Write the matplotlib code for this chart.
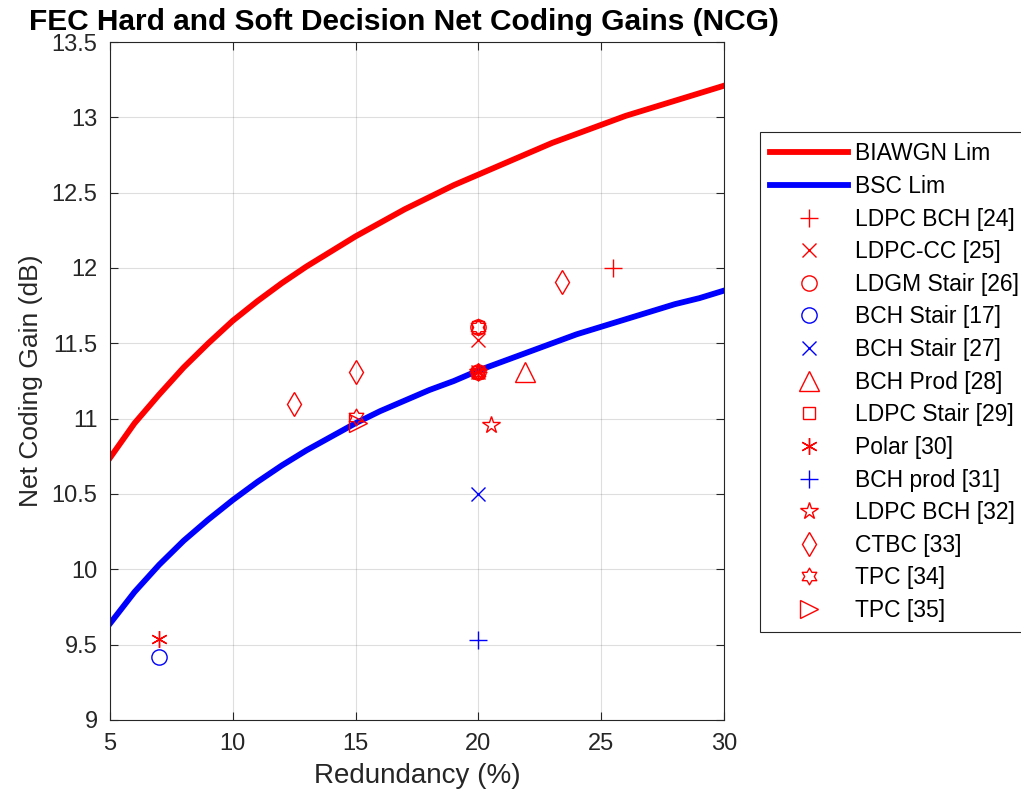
import numpy as np
import matplotlib
matplotlib.use("Agg")
import matplotlib.pyplot as plt
from matplotlib.path import Path

plt.rcParams['font.family'] = ['Liberation Sans', 'DejaVu Sans']

# ---- data ----
redundancy = [5, 6, 7, 8, 9, 10, 11, 12, 13, 14, 15, 16, 17, 18, 19, 20,
              21, 22, 23, 24, 25, 26, 27, 28, 29, 30]
biawgn_lim = [10.74, 10.97, 11.16, 11.34, 11.50, 11.65, 11.78, 11.90, 12.01, 12.11, 12.21,
              12.30, 12.39, 12.47, 12.55, 12.62, 12.69, 12.76, 12.83, 12.89, 12.95,
              13.01, 13.06, 13.11, 13.16, 13.21]
bsc_lim = [9.64, 9.85, 10.03, 10.19, 10.33, 10.46, 10.58, 10.69, 10.79, 10.88, 10.97,
           11.05, 11.12, 11.19, 11.25, 11.32, 11.38, 11.44, 11.50, 11.56, 11.61,
           11.66, 11.71, 11.76, 11.80, 11.85]

ldpc_bch24_x, ldpc_bch24_y = [25.5, 20], [12.0, 11.31]
ldpc_cc25_x, ldpc_cc25_y = [20, 20], [11.52, 11.31]
ldgm_stair26_x, ldgm_stair26_y = [20, 20], [11.61, 11.31]
bch_stair17_x, bch_stair17_y = [7], [9.42]
bch_stair27_x, bch_stair27_y = [20], [10.5]
bch_prod28_x, bch_prod28_y = [21.9], [11.31]
ldpc_stair29_x, ldpc_stair29_y = [20, 20], [11.61, 11.31]
polar30_x, polar30_y = [7, 20], [9.54, 11.31]
bch_prod31_x, bch_prod31_y = [20], [9.53]
ldpc_bch32_x, ldpc_bch32_y = [20.5, 20], [10.96, 11.31]
ctbc33_x, ctbc33_y = [12.5, 15, 23.4], [11.1, 11.31, 11.91]
tpc34_x, tpc34_y = [15, 20, 20], [11.01, 11.61, 11.31]
tpc35_x, tpc35_y = [15.1], [10.97]

xticks = [5, 10, 15, 20, 25, 30]
yticks = [9, 9.5, 10, 10.5, 11, 11.5, 12, 12.5, 13, 13.5]

# hexagram marker shape
ang_o = np.deg2rad(90 + 60 * np.arange(6))
ang_i = ang_o + np.deg2rad(30)
r_i = 1 / np.sqrt(3)
verts = []
for k in range(6):
    verts.append((np.cos(ang_o[k]), np.sin(ang_o[k])))
    verts.append((r_i * np.cos(ang_i[k]), r_i * np.sin(ang_i[k])))
verts.append(verts[0])
hexagram = Path(verts, [Path.MOVETO] + [Path.LINETO] * 11 + [Path.CLOSEPOLY])

RED = (1, 0, 0)
BLUE = (0, 0, 1)
DARK = (0.15, 0.15, 0.15)

fig = plt.figure(figsize=(10.21, 8.0), dpi=100)
ax = fig.add_axes([110 / 1021, 80 / 800, 614 / 1021, 678 / 800])

ax.plot(redundancy, biawgn_lim, color=RED, lw=4.2, label='BIAWGN Lim')
ax.plot(redundancy, bsc_lim, color=BLUE, lw=4.2, label='BSC Lim')

ms = 11
mk = dict(ls='none', mfc='none', mew=1.0)
series = [
    (ldpc_bch24_x, ldpc_bch24_y, '+', RED, ms + 2, 'LDPC BCH [24]'),
    (ldpc_cc25_x, ldpc_cc25_y, 'x', RED, ms - 1, 'LDPC-CC [25]'),
    (ldgm_stair26_x, ldgm_stair26_y, 'o', RED, ms, 'LDGM Stair [26]'),
    (bch_stair17_x, bch_stair17_y, 'o', BLUE, ms, 'BCH Stair [17]'),
    (bch_stair27_x, bch_stair27_y, 'x', BLUE, ms - 1, 'BCH Stair [27]'),
    (bch_prod28_x, bch_prod28_y, '^', RED, ms + 3, 'BCH Prod [28]'),
    (ldpc_stair29_x, ldpc_stair29_y, 's', RED, ms - 2, 'LDPC Stair [29]'),
    (polar30_x, polar30_y, (6, 2, 0), RED, ms + 1, 'Polar [30]'),
    (bch_prod31_x, bch_prod31_y, '+', BLUE, ms + 2, 'BCH prod [31]'),
    (ldpc_bch32_x, ldpc_bch32_y, '*', RED, ms + 2, 'LDPC BCH [32]'),
    (ctbc33_x, ctbc33_y, 'd', RED, ms + 1, 'CTBC [33]'),
    (tpc34_x, tpc34_y, hexagram, RED, ms + 1, 'TPC [34]'),
    (tpc35_x, tpc35_y, '>', RED, ms + 2, 'TPC [35]'),
]
for x, y, m, c, s, lab in series:
    ax.plot(x, y, marker=m, color=c, mec=c, ms=s, label=lab, **mk)

ax.set_xlim(5, 30)
ax.set_ylim(9, 13.5)
ax.set_xticks(xticks)
ax.set_yticks(yticks)
ax.set_yticklabels([f'{v:g}' for v in yticks])
ax.grid(True, color=DARK, alpha=0.15, lw=0.8)
ax.set_axisbelow(True)
for sp in ax.spines.values():
    sp.set_color(DARK)
    sp.set_linewidth(0.8)
ax.tick_params(direction='in', top=True, right=True, length=6, width=0.8,
               color=DARK, labelsize=17, labelcolor=DARK, pad=9)
ax.set_xlabel('Redundancy (%)', fontsize=20, color=DARK, labelpad=6)
ax.set_ylabel('Net Coding Gain (dB)', fontsize=19, color=DARK, labelpad=6)
ttl = ax.set_title('FEC Hard and Soft Decision Net Coding Gains (NCG)', fontsize=21.5,
                   fontweight='bold', pad=9)
ttl.set_x(0.479)

leg = fig.legend(loc='upper left', bbox_to_anchor=(760 / 1021, 1 - 132 / 800),
                 bbox_transform=fig.transFigure, fontsize=16.5, frameon=True,
                 fancybox=False, framealpha=1, edgecolor=DARK,
                 handlelength=3.4, handletextpad=0.3, labelspacing=0.42,
                 borderpad=0.45, borderaxespad=0)
leg.get_frame().set_linewidth(0.8)
for t in leg.get_texts():
    t.set_color((0.0, 0.0, 0.0))

fig.savefig('out.png', dpi=100)
